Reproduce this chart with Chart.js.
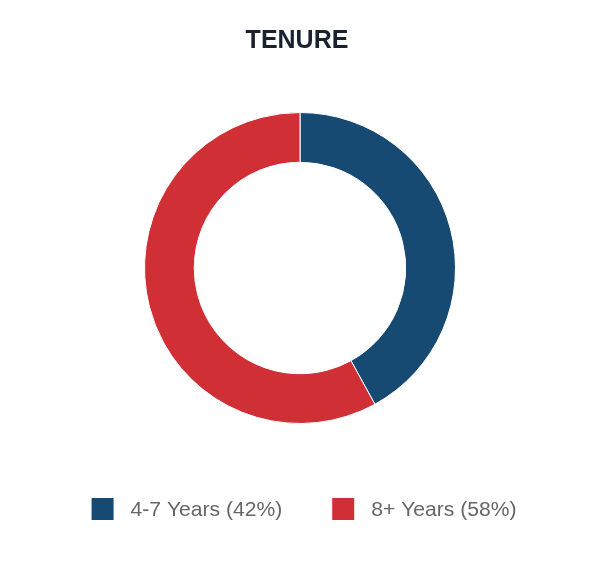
<!DOCTYPE html>
<html>
<head>
<meta charset="utf-8">
<script src="https://cdn.jsdelivr.net/npm/chart.js@4.4.0/dist/chart.umd.min.js"></script>
<style>
  html, body { margin: 0; padding: 0; background: #ffffff; }
  #wrap { width: 600px; height: 576px; position: relative; }
</style>
</head>
<body>
<div id="wrap"><canvas id="c" width="600" height="576"></canvas></div>
<script>
const chartTitle = "TENURE";
const categories = ["4-7 Years", "8+ Years"];
const values = [42, 58];
const colors = ["#164a73", "#d12f36"];

const legendLabels = categories.map((c, i) => c + " (" + values[i] + "%)");

const customDecor = {
  id: "customDecor",
  afterDraw(chart) {
    const ctx = chart.ctx;
    ctx.save();
    // Title
    ctx.font = "bold 25px 'Liberation Sans', Arial, sans-serif";
    ctx.fillStyle = "#1a2230";
    ctx.textAlign = "center";
    ctx.textBaseline = "alphabetic";
    ctx.fillText(chartTitle, 297, 48);

    // Legend
    const fontPx = 21.1;
    ctx.font = fontPx + "px 'Liberation Sans', Arial, sans-serif";
    const box = 22, gapText = 17, gapItem = 50;
    const widths = legendLabels.map(t => ctx.measureText(t).width);
    let total = 0;
    widths.forEach((w, i) => { total += box + gapText + w + (i < widths.length - 1 ? gapItem : 0); });
    let x = 304 - total / 2;
    const boxTop = 498;
    ctx.textAlign = "left";
    ctx.textBaseline = "middle";
    legendLabels.forEach((t, i) => {
      ctx.fillStyle = colors[i];
      ctx.fillRect(x, boxTop, box, box);
      ctx.fillStyle = "#666666";
      ctx.fillText(t, x + box + gapText, boxTop + box / 2 + 1);
      x += box + gapText + widths[i] + gapItem;
    });
    ctx.restore();
  }
};

new Chart(document.getElementById("c"), {
  type: "doughnut",
  data: {
    labels: categories,
    datasets: [{
      data: values,
      backgroundColor: colors,
      borderColor: "#ffffff",
      borderWidth: 1
    }]
  },
  options: {
    responsive: false,
    animation: false,
    cutout: "68%",
    layout: { padding: { top: 112, bottom: 152, left: 0, right: 0 } },
    plugins: {
      legend: { display: false },
      title: { display: false },
      tooltip: { enabled: false }
    }
  },
  plugins: [customDecor]
});
</script>
</body>
</html>
